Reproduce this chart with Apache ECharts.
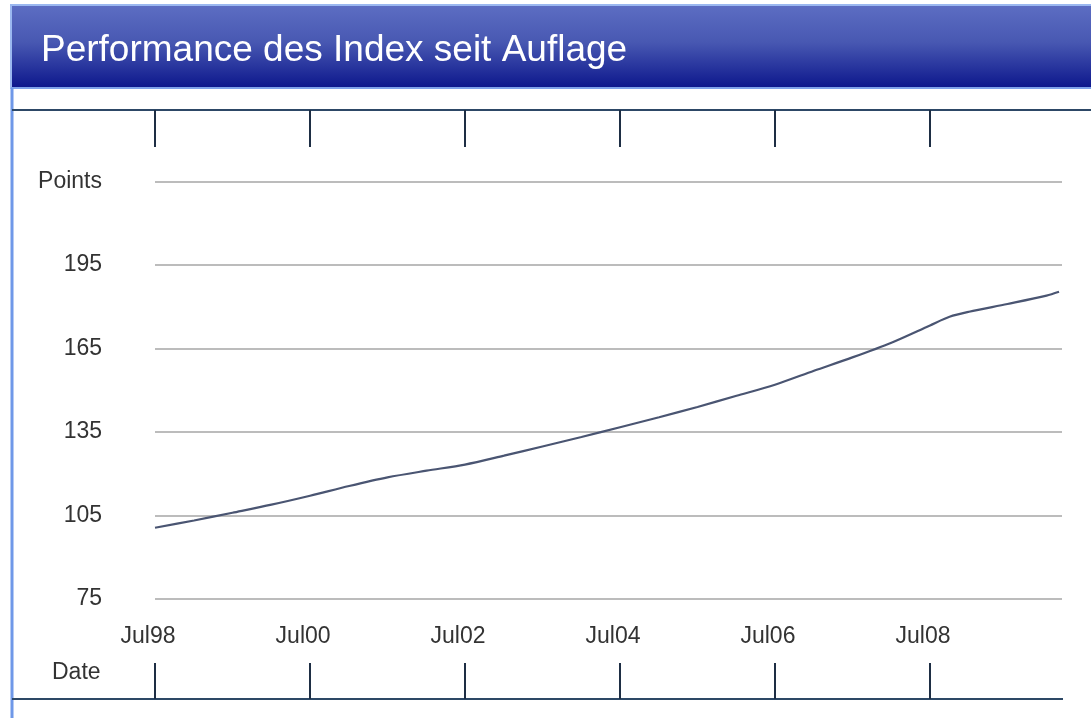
<!DOCTYPE html>
<html>
<head>
<meta charset="utf-8">
<script src="https://cdn.jsdelivr.net/npm/echarts@6/dist/echarts.min.js"></script>
<style>
  html, body { margin: 0; padding: 0; background: #fff; }
  #chart { width: 1091px; height: 718px; }
</style>
</head>
<body>
<div id="chart"></div>
<script>
// Index-Verlauf seit Auflage
const dates = [
  '1998-07', '1999-01', '1999-07', '2000-01', '2000-07', '2001-01', '2001-07',
  '2002-01', '2002-07', '2003-01', '2003-07', '2004-01', '2004-07', '2005-01',
  '2005-07', '2006-01', '2006-07', '2007-01', '2007-07', '2008-01', '2008-07',
  '2008-10', '2009-01', '2009-07', '2010-01', '2010-03'
];
const points = [
  100.6, 103.2, 106.0, 108.9, 112.1, 115.6, 118.7,
  121.1, 123.3, 126.5, 129.8, 133.2, 136.7, 140.3,
  144.0, 148.0, 152.0, 157.0, 161.8, 167.1, 173.3,
  176.4, 178.2, 181.0, 184.0, 185.4
];
const tickDates = ['1998-07', '2000-07', '2002-07', '2004-07', '2006-07', '2008-07'];
const yTicks = [75, 105, 135, 165, 195, 225];

const monthNames = ['Jan', 'Feb', 'Mar', 'Apr', 'May', 'Jun', 'Jul', 'Aug', 'Sep', 'Oct', 'Nov', 'Dec'];

// 'YYYY-MM' -> Zeitstempel
const toTime = (s) => {
  const [y, m] = s.split('-').map(Number);
  return new Date(y, m - 1, 1).getTime();
};

const tickTimes = tickDates.map(toTime);
const seriesData = dates.map((d, i) => [toTime(d), points[i]]);
const xMin = toTime('1998-07');
const xMax = new Date(2010, 2, 15).getTime();

const chart = echarts.init(document.getElementById('chart'));

const tickStyle = { color: '#1e2e44', width: 2 };
const labelFont = 'Arial, "Liberation Sans", sans-serif';

const option = {
  animation: false,
  backgroundColor: '#fff',
  title: {
    text: 'Performance des Index seit Auflage',
    left: 36,
    top: 27,
    textStyle: {
      color: '#fff',
      fontSize: 37,
      fontWeight: 'normal',
      fontFamily: labelFont
    }
  },
  grid: {
    left: 155,
    right: 29,
    top: 181.5,
    bottom: 119,
    outerBoundsMode: 'none'
  },
  xAxis: [
    {
      type: 'value',
      min: xMin,
      max: xMax,
      axisLine: { show: false },
      axisTick: { show: false },
      splitLine: { show: false },
      axisLabel: {
        customValues: tickTimes,
        margin: 26,
        fontSize: 23,
        color: '#333',
        fontFamily: labelFont,
        padding: [0, 14, 0, 0],
        formatter: (v) => {
          const d = new Date(v);
          return monthNames[d.getMonth()] + String(d.getFullYear()).slice(2);
        }
      }
    },
    {
      type: 'value',
      position: 'bottom',
      offset: 100,
      min: xMin,
      max: xMax,
      axisLine: { show: false },
      axisTick: { show: true, inside: true, length: 36, customValues: tickTimes, lineStyle: tickStyle },
      axisLabel: { show: false },
      splitLine: { show: false }
    },
    {
      type: 'value',
      position: 'top',
      offset: 71.5,
      min: xMin,
      max: xMax,
      axisLine: { show: false },
      axisTick: { show: true, inside: true, length: 37, customValues: tickTimes, lineStyle: tickStyle },
      axisLabel: { show: false },
      splitLine: { show: false }
    }
  ],
  yAxis: {
    type: 'value',
    min: yTicks[0],
    max: yTicks[yTicks.length - 1],
    interval: 30,
    axisLine: { show: false },
    axisTick: { show: false },
    axisLabel: {
      margin: 53,
      fontSize: 23,
      color: '#333',
      fontFamily: labelFont,
      formatter: (v) => (v === yTicks[yTicks.length - 1] ? 'Points' : String(v))
    },
    splitLine: { lineStyle: { color: '#a6a6a6', width: 1.5 } }
  },
  graphic: [
    // Kopfzeile
    {
      type: 'rect',
      shape: { x: 11, y: 5, width: 1082, height: 83 },
      style: {
        fill: new echarts.graphic.LinearGradient(0, 0, 0, 1, [
          { offset: 0, color: '#5d6ec3' },
          { offset: 0.45, color: '#4858b2' },
          { offset: 1, color: '#0b158b' }
        ]),
        stroke: '#9bb8f0',
        lineWidth: 2
      },
      z: -1
    },
    {
      type: 'line',
      shape: { x1: 11, y1: 88, x2: 1091, y2: 88 },
      style: { stroke: '#7ea2ea', lineWidth: 2 }
    },
    // linker Rahmen
    {
      type: 'line',
      shape: { x1: 12, y1: 88, x2: 12, y2: 718 },
      style: { stroke: '#6f98e8', lineWidth: 3 }
    },
    // obere und untere Achsenlinie
    {
      type: 'line',
      shape: { x1: 12, y1: 110, x2: 1091, y2: 110 },
      style: { stroke: '#2d4866', lineWidth: 2 }
    },
    {
      type: 'line',
      shape: { x1: 12, y1: 699, x2: 1063, y2: 699 },
      style: { stroke: '#2d4866', lineWidth: 2 }
    },
    {
      type: 'text',
      x: 52,
      y: 673,
      style: {
        text: 'Date',
        fontSize: 23,
        fontFamily: labelFont,
        fill: '#333',
        verticalAlign: 'middle'
      }
    }
  ],
  series: [
    {
      type: 'line',
      data: seriesData,
      smooth: 0.3,
      symbol: 'none',
      lineStyle: { color: '#4a5572', width: 2.2 }
    }
  ]
};

chart.setOption(option);
</script>
</body>
</html>
